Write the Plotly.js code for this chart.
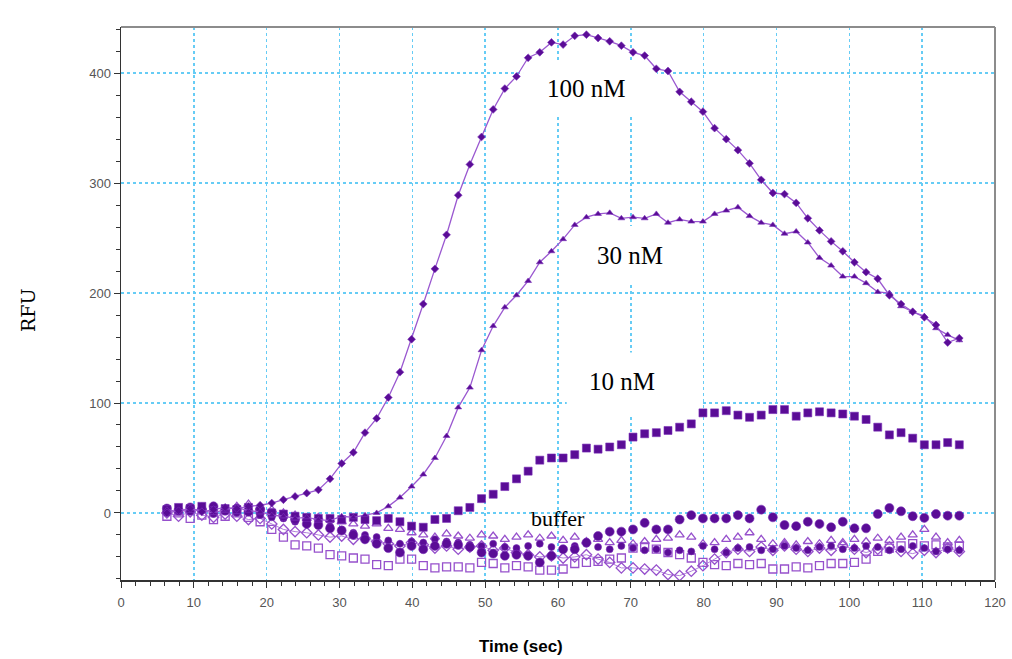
<!DOCTYPE html>
<html>
<head>
<meta charset="utf-8">
<script src="https://cdn.plot.ly/plotly-3.0.1.min.js"></script>
<style>
  html, body { margin: 0; padding: 0; background: #ffffff; }
  #chart { width: 1012px; height: 659px; }
</style>
</head>
<body>
<div id="chart"></div>
<script>
// Time points (sec)
const times = [6.3, 7.9, 9.5, 11.1, 12.7, 14.3, 15.9, 17.5, 19.1, 20.7,
  22.3, 23.9, 25.5, 27.1, 28.7, 30.3, 31.9, 33.5, 35.1, 36.7,
  38.3, 39.9, 41.5, 43.1, 44.7, 46.3, 47.9, 49.5, 51.1, 52.7,
  54.3, 55.9, 57.5, 59.1, 60.7, 62.3, 63.9, 65.5, 67.1, 68.7,
  70.3, 71.9, 73.5, 75.1, 76.7, 78.3, 79.9, 81.5, 83.1, 84.7,
  86.3, 87.9, 89.5, 91.1, 92.7, 94.3, 95.9, 97.5, 99.1, 100.7,
  102.3, 103.9, 105.5, 107.1, 108.7, 110.3, 111.9, 113.5, 115.1];

// RFU series
const nM100 = [0, 2, 4, 1, 3, 5, 4, 6, 7, 9,
  12, 15, 18, 21, 31, 45, 55, 73, 86, 105,
  128, 158, 190, 222, 253, 289, 317, 342, 367, 386,
  397, 414, 419, 428, 426, 434, 435, 432, 429, 425,
  419, 416, 404, 402, 383, 374, 365, 350, 340, 330,
  318, 303, 291, 290, 282, 268, 257, 247, 238, 228,
  219, 213, 198, 190, 183, 178, 171, 155, 159];

const nM30 = [3, 1, 4, 2, 0, 3, 5, 2, 1, -2,
  -3, -5, -4, -6, -7, -3, -4, -2, 0, 6,
  14, 24, 35, 50, 70, 96, 114, 148, 170, 187,
  198, 211, 228, 238, 249, 262, 269, 272, 273, 268,
  269, 268, 272, 264, 267, 265, 265, 272, 275, 278,
  270, 264, 262, 254, 256, 246, 232, 225, 215, 215,
  209, 201, 200, 188, 183, 179, 168, 162, 157];

const nM10 = [3, 5, 4, 6, 2, 4, 3, 5, 2, 0,
  -1, -3, -4, -5, -5, -6, -4, -6, -7, -5,
  -8, -12, -13, -6, -5, 2, 5, 13, 17, 24,
  31, 38, 48, 50, 50, 53, 59, 58, 60, 62,
  69, 72, 73, 75, 78, 81, 91, 91, 93, 89,
  87, 89, 94, 94, 88, 91, 92, 91, 90, 88,
  85, 78, 71, 73, 68, 62, 62, 64, 62];

const bufferA = [4, 2, 5, 3, 6, 2, 4, 1, 3, 0,
  -3, -6, -10, -11, -14, -16, -20, -24, -28, -32,
  -36, -30, -33, -30, -28, -29, -31, -36, -37, -39,
  -38, -39, -45, -39, -33, -33, -27, -21, -17, -17,
  -15, -9, -15, -15, -6, -2, -5, -5, -5, -2,
  -5, 3, -4, -11, -12, -8, -10, -13, -8, -14,
  -14, -1, 4.5, 1.5, -3, -4.5, -1, -2.5, -2.5];

const bufferB = [0, 3, 1, 4, -1, 2, 0, 3, -2, -4,
  -5, -8, -7, -10, -12, -15, -18, -20, -22, -25,
  -28, -26, -27, -24, -26, -27, -29, -30, -28, -31,
  -32, -30, -28, -31, -33, -30, -28, -31, -33, -30,
  -32, -34, -33, -36, -34, -35, -30, -33, -36, -32,
  -31, -34, -33, -30, -32, -34, -31, -30, -33, -32,
  -30, -31, -34, -33, -30, -32, -35, -33, -34];

const bufferC = [2, 0, 3, 5, 1, 4, 6, 8, 5, 3,
  0, -2, -5, -4, -6, -8, -10, -12, -10, -14,
  -15, -18, -20, -22, -19, -21, -23, -20, -21, -24,
  -22, -20, -23, -21, -25, -22, -26, -24, -27, -25,
  -28, -26, -24, -23, -20, -22, -28, -27, -24, -22,
  -18, -24, -28, -27, -29, -26, -28, -25, -27, -24,
  -26, -23, -25, -22, -20, -15, -22, -27, -25];

const bufferD = [-3, 0, -5, -2, -6, -3, 0, -4, -8, -15,
  -22, -29, -30, -32, -38, -39, -41, -42, -47, -48,
  -42, -42, -48, -50, -49, -49, -50, -45, -46, -50,
  -48, -49, -52, -52, -51, -46, -45, -44, -42, -41,
  -32, -31, -33, -36, -38, -41, -45, -47, -48, -46,
  -47, -46, -51, -51, -49, -50, -48, -46, -46, -45,
  -42, -35, -32, -30, -28, -30, -29, -31, -30];

const bufferE = [0, -3, 1, -2, -4, -1, -3, -6, -5, -10,
  -15, -17, -18, -20, -22, -21, -24, -23, -26, -28,
  -30, -27, -29, -32, -30, -33, -31, -30, -34, -32,
  -36, -38, -40, -39, -41, -40, -38, -42, -45, -50,
  -50, -51, -52, -56, -57, -53, -48, -42, -36, -33,
  -35, -31, -34, -30, -33, -35, -32, -34, -30, -33,
  -36, -33, -31, -35, -37, -34, -36, -32, -35];

const labelTexts = ['100 nM', '30 nM', '10 nM', 'buffer'];
const labelX = [63.9, 69.9, 68.8, 60.0];
const labelY = [386, 234.5, 120, -5.5];

const DARK = '#5a0c96';
const LINE = '#9a58d0';
const OPEN = '#9650cc';

function filled(y, symbol, size, withLine) {
  return {
    x: times, y: y, type: 'scatter',
    mode: withLine ? 'lines+markers' : 'markers',
    line: { color: LINE, width: 1.3 },
    marker: { symbol: symbol, size: size, color: DARK, line: { color: '#7a30b8', width: 0.6 } },
    showlegend: false, hoverinfo: 'skip'
  };
}
function open(y, symbol, size, withLine) {
  return {
    x: times, y: y, type: 'scatter',
    mode: withLine ? 'lines+markers' : 'markers',
    line: { color: '#b27fdc', width: 1 },
    marker: { symbol: symbol, size: size, color: OPEN, line: { color: OPEN, width: 1.3 } },
    showlegend: false, hoverinfo: 'skip'
  };
}

const traces = [
  open(bufferD, 'square-open', 8, false),
  open(bufferE, 'diamond-open', 8, true),
  open(bufferC, 'triangle-up-open', 8, false),
  filled(bufferB, 'circle', 7, false),
  filled(bufferA, 'circle', 9, false),
  filled(nM10, 'square', 8, false),
  filled(nM30, 'triangle-up', 6, true),
  filled(nM100, 'diamond', 6, true)
];

const annotations = labelTexts.map((t, i) => ({
  x: labelX[i], y: labelY[i], xref: 'x', yref: 'y',
  text: t, showarrow: false,
  font: { family: 'Liberation Serif, Times New Roman, serif', size: i === 3 ? 22 : 25, color: '#000' },
  xanchor: 'center', yanchor: 'middle'
}));
annotations.push({
  x: (521 - 121) / 874, y: (580 - 646) / 553, xref: 'paper', yref: 'paper',
  text: '<b>Time (sec)</b>', showarrow: false,
  font: { family: 'Liberation Sans, Arial, sans-serif', size: 17, color: '#000' },
  xanchor: 'center', yanchor: 'middle'
});
annotations.push({
  x: (28 - 121) / 874, y: (580 - 310) / 553, xref: 'paper', yref: 'paper',
  text: 'RFU', showarrow: false, textangle: -90,
  font: { family: 'DejaVu Serif, serif', size: 19, color: '#000' },
  xanchor: 'center', yanchor: 'middle'
});

const shapes = [
  { type: 'rect', xref: 'x', yref: 'y', x0: 55.2, x1: 73.6, y0: 361.8, y1: 411.8,
    fillcolor: '#ffffff', line: { width: 0 }, layer: 'between' },
  { type: 'rect', xref: 'x', yref: 'y', x0: 62.8, x1: 79.5, y0: 209, y1: 261,
    fillcolor: '#ffffff', line: { width: 0 }, layer: 'between' },
  { type: 'rect', xref: 'x', yref: 'y', x0: 61.2, x1: 79.5, y0: 90, y1: 146,
    fillcolor: '#ffffff', line: { width: 0 }, layer: 'between' },
  // gray top and right frame
  { type: 'line', xref: 'paper', yref: 'paper', x0: 0, x1: 1, y0: 1, y1: 1,
    line: { color: '#8c8c8c', width: 2 }, layer: 'above' },
  { type: 'line', xref: 'paper', yref: 'paper', x0: 1, x1: 1, y0: 0, y1: 1,
    line: { color: '#8c8c8c', width: 2 }, layer: 'above' }
];

const gridStyle = { gridcolor: '#66ccf5', griddash: 'dot', gridwidth: 1.4 };

const layout = {
  width: 1012, height: 659,
  margin: { l: 121, r: 17, t: 27, b: 79, pad: 0 },
  paper_bgcolor: '#ffffff', plot_bgcolor: '#ffffff',
  showlegend: false,
  xaxis: Object.assign({
    range: [0, 120], dtick: 10, tick0: 0,
    showline: true, linecolor: '#333', linewidth: 1.5, mirror: false,
    ticks: 'outside', ticklen: 6, tickcolor: '#333', tickwidth: 1,
    minor: { dtick: 2, ticks: 'outside', ticklen: 4, tickcolor: '#333', showgrid: false },
    tickfont: { family: 'Liberation Sans, Arial, sans-serif', size: 13, color: '#555' },
    ticklabelstandoff: 4,
    showgrid: true, zeroline: false, fixedrange: true
  }, gridStyle),
  yaxis: Object.assign({
    range: [-61, 442], dtick: 100, tick0: 0,
    showline: true, linecolor: '#333', linewidth: 1.5, mirror: false,
    ticks: 'outside', ticklen: 6, tickcolor: '#333', tickwidth: 1,
    minor: { dtick: 20, ticks: 'outside', ticklen: 4, tickcolor: '#333', showgrid: false },
    tickfont: { family: 'Liberation Sans, Arial, sans-serif', size: 13, color: '#555' },
    showgrid: true, zeroline: false, fixedrange: true
  }, gridStyle),
  annotations: annotations,
  shapes: shapes
};

Plotly.newPlot('chart', traces, layout, { staticPlot: true, displayModeBar: false });
</script>
</body>
</html>
